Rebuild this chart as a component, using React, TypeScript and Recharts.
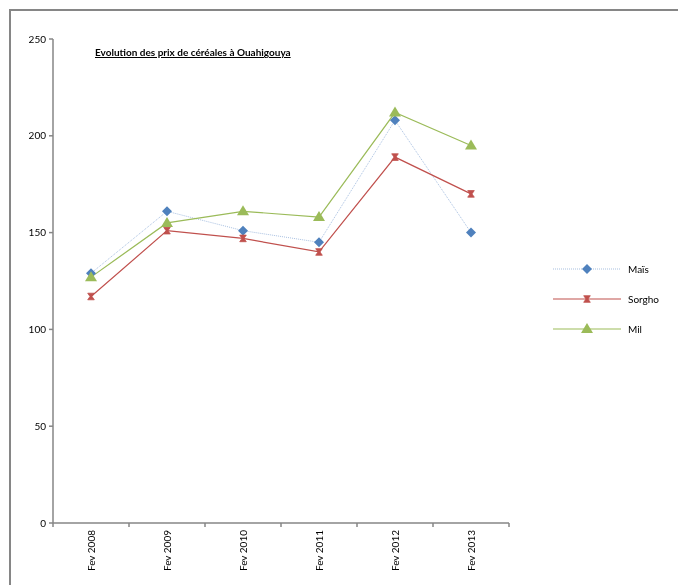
import { LineChart, Line, XAxis, YAxis } from 'recharts'

const years = ['Fev 2008', 'Fev 2009', 'Fev 2010', 'Fev 2011', 'Fev 2012', 'Fev 2013']
const mais = [129, 161, 151, 145, 208, 150]
const sorgho = [117, 151, 147, 140, 189, 170]
const mil = [127, 155, 161, 158, 212, 195]
const yTicks = [0, 50, 100, 150, 200, 250]

const rows = years.map((year, i) => ({ year, mais: mais[i], sorgho: sorgho[i], mil: mil[i] }))

const FONT = 'Lato, "Liberation Sans", sans-serif'
const AXIS = '#868686'
const HALF_BAND = 38

function Diamond({ cx, cy }: { cx: number; cy: number }) {
  return <polygon points={`${cx},${cy - 5} ${cx + 5},${cy} ${cx},${cy + 5} ${cx - 5},${cy}`} fill="#4f81bd" />
}

// excel's "star" marker, reads as a small bow-tie
function Cross({ cx, cy }: { cx: number; cy: number }) {
  const s = 3.3
  return (
    <polygon
      points={`${cx - s},${cy - s} ${cx + s},${cy - s} ${cx + 1},${cy} ${cx + s},${cy + s} ${cx - s},${cy + s} ${cx - 1},${cy}`}
      fill="#c0504d"
      stroke="#c0504d"
      strokeWidth={0.8}
    />
  )
}

function Triangle({ cx, cy }: { cx: number; cy: number }) {
  return <polygon points={`${cx},${cy - 6} ${cx + 6},${cy + 4} ${cx - 6},${cy + 4}`} fill="#9bbb59" />
}

const YearTick = (props: any) => {
  const { x, y, payload, index } = props
  const top = y - 7
  return (
    <g>
      <line x1={x - HALF_BAND} x2={x - HALF_BAND} y1={top} y2={top + 4} stroke={AXIS} strokeWidth={1.5} />
      {index === years.length - 1 && (
        <line x1={x + HALF_BAND} x2={x + HALF_BAND} y1={top} y2={top + 4} stroke={AXIS} strokeWidth={1.5} />
      )}
      <text
        x={x}
        y={y}
        transform={`rotate(-90 ${x} ${y})`}
        textAnchor="end"
        dy="0.35em"
        fontSize={10}
        fontFamily={FONT}
        fill="#000"
      >
        {payload.value}
      </text>
    </g>
  )
}

const legendItems = [
  { label: 'Maïs', color: '#a7bfe0', dash: '1 1', Marker: Diamond },
  { label: 'Sorgho', color: '#c0504d', dash: undefined, Marker: Cross },
  { label: 'Mil', color: '#9bbb59', dash: undefined, Marker: Triangle },
]

function LegendBox() {
  return (
    <div style={{ position: 'absolute', left: 545, top: 246, fontFamily: FONT, fontSize: 10 }}>
      {legendItems.map(({ label, color, dash, Marker }) => (
        <div key={label} style={{ display: 'flex', alignItems: 'center', height: 30 }}>
          <svg width={68} height={14}>
            <line x1={0} x2={68} y1={7} y2={7} stroke={color} strokeWidth={1.2} strokeDasharray={dash} />
            <Marker cx={34} cy={7} />
          </svg>
          <span style={{ marginLeft: 7 }}>{label}</span>
        </div>
      ))}
    </div>
  )
}

export default function App() {
  return (
    <div style={{ position: 'relative', width: 670, height: 569 }}>
      <div
        style={{
          position: 'fixed',
          left: 9,
          top: 9,
          width: 669,
          height: 576,
          borderTop: `2px solid ${AXIS}`,
          borderLeft: `2px solid ${AXIS}`,
          boxSizing: 'border-box',
        }}
      />
      <div
        style={{
          position: 'absolute',
          left: 87,
          top: 38,
          fontFamily: FONT,
          fontSize: 10,
          fontWeight: 'bold',
          textDecoration: 'underline',
        }}
      >
        Evolution des prix de céréales à Ouahigouya
      </div>
      <LegendBox />
      <LineChart width={670} height={569} data={rows} margin={{ top: 31, right: 169, left: 0, bottom: 0 }}>
        <XAxis
          dataKey="year"
          height={54}
          padding={{ left: HALF_BAND, right: HALF_BAND }}
          stroke={AXIS}
          strokeWidth={1.5}
          tickLine={false}
          tickSize={4}
          tickMargin={3}
          interval={0}
          tick={YearTick}
        />
        <YAxis
          width={45}
          domain={[0, 250]}
          ticks={yTicks}
          stroke={AXIS}
          strokeWidth={1.5}
          tickSize={4}
          tickMargin={3}
          tick={{ fill: '#000', fontSize: 10, fontFamily: FONT }}
        />
        <Line
          dataKey="mais"
          stroke="#a7bfe0"
          strokeWidth={1}
          strokeDasharray="1 1"
          isAnimationActive={false}
          dot={(p: any) => <Diamond key={p.index} cx={p.cx} cy={p.cy} />}
        />
        <Line
          dataKey="sorgho"
          stroke="#c0504d"
          strokeWidth={1.2}
          isAnimationActive={false}
          dot={(p: any) => <Cross key={p.index} cx={p.cx} cy={p.cy} />}
        />
        <Line
          dataKey="mil"
          stroke="#9bbb59"
          strokeWidth={1.2}
          isAnimationActive={false}
          dot={(p: any) => <Triangle key={p.index} cx={p.cx} cy={p.cy} />}
        />
      </LineChart>
    </div>
  )
}
